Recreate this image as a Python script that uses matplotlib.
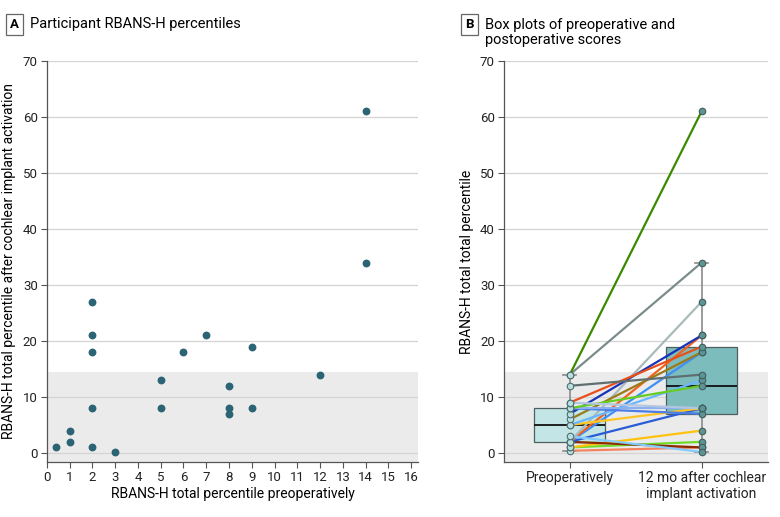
import matplotlib
matplotlib.use("Agg")
import matplotlib.pyplot as plt
import numpy as np

plt.rcParams["font.family"] = ["Liberation Sans Narrow", "Roboto", "DejaVu Sans"]

# Paired RBANS-H total percentiles per participant
pre = [0.4, 1, 1, 2, 2, 2, 2, 2, 3, 5, 5, 6, 7, 8, 8, 8, 9, 9, 12, 14, 14]
post = [1, 2, 4, 1, 8, 18, 21, 27, 0.2, 8, 13, 18, 21, 7, 8, 12, 8, 19, 14, 34, 61]
pair_colors = ["#f4845f", "#6fdc2a", "#ffc20e", "#8b2a00", "#2a5cd6",
               "#3d8ff5", "#f0621e", "#a9baba", "#84ccff", "#ffc524",
               "#6bb6ff", "#9a7a1a", "#1832b8", "#4a7de8", "#8ab0f0",
               "#66cc22", "#b3c6e0", "#e8501a", "#5f6f6f", "#7a8c8c",
               "#3a8a00"]
group_labels = ["Preoperatively", "12 mo after cochlear\nimplant activation"]
yticks = [0, 10, 20, 30, 40, 50, 60, 70]
xticks_a = list(range(0, 17))
band_top = 14.5

fig = plt.figure(figsize=(7.8, 5.17), dpi=100)
ax_a = fig.add_axes([0.060, 0.1064, 0.476, 0.7756])
ax_b = fig.add_axes([0.646, 0.1064, 0.338, 0.7756])

grid_c = "#d4d4d4"
axis_c = "#555555"


def style_axes(ax):
    ax.set_ylim(-1.6, 70)
    ax.set_yticks(yticks)
    for y in yticks:
        ax.axhline(y, color=grid_c, lw=0.9, zorder=1)
    ax.axhspan(-1.6, band_top, color="#ebebeb", zorder=0, lw=0)
    for s in ["top", "right"]:
        ax.spines[s].set_visible(False)
    for s in ["left", "bottom"]:
        ax.spines[s].set_color(axis_c)
        ax.spines[s].set_linewidth(0.9)
    ax.tick_params(colors=axis_c, labelcolor="#222222", labelsize=9.5,
                   length=4, width=0.8, pad=2.5)


# Panel A: scatter
style_axes(ax_a)
ax_a.set_xlim(0, 16.3)
ax_a.set_xticks(xticks_a)
ax_a.scatter(pre, post, s=32, color="#2b6475", zorder=3, lw=0)
ax_a.set_xlabel("RBANS-H total percentile preoperatively", fontsize=10, labelpad=2)
ax_a.set_ylabel("RBANS-H total percentile after cochlear implant activation",
                fontsize=10, labelpad=5)

# Panel B: paired lines + box plots
style_axes(ax_b)
ax_b.set_xlim(-0.5, 1.5)
bp = ax_b.boxplot([pre, post], positions=[0, 1], widths=0.54, patch_artist=True,
                  showfliers=False, whis=1.5, zorder=2,
                  medianprops=dict(color="#111111", lw=1.3),
                  whiskerprops=dict(color="#8a8a8a", lw=1.2),
                  capprops=dict(color="#8a8a8a", lw=1.2),
                  boxprops=dict(edgecolor="#4f5f5f", lw=0.9))
for cap in bp["caps"]:
    x0, x1 = cap.get_xdata()
    mid = (x0 + x1) / 2
    cap.set_xdata([mid - 0.05, mid + 0.05])
bp["boxes"][0].set_facecolor("#c3e5e5")
bp["boxes"][1].set_facecolor("#7dbcbc")

for a, b, c in zip(pre, post, pair_colors):
    ax_b.plot([0, 1], [a, b], color=c, lw=1.6, zorder=4)
ax_b.scatter([0] * len(pre), pre, s=22, color="#b9e0e0", edgecolor="#4f6f6f",
             lw=0.8, zorder=5)
ax_b.scatter([1] * len(post), post, s=22, color="#5f9494", edgecolor="#3f5f5f",
             lw=0.8, zorder=5)
ax_b.set_xticks([0, 1])
ax_b.set_xticklabels(group_labels, fontsize=10)
ax_b.tick_params(axis="x", pad=2.5)
ax_b.set_ylabel("RBANS-H total total percentile", fontsize=10, labelpad=4)

# Panel headers
fig.text(0.019, 0.953, "A", fontsize=9.5, fontweight="bold", ha="center",
         va="center",
         bbox=dict(boxstyle="square,pad=0.3", fc="white", ec="#666666", lw=0.9))
fig.text(0.038, 0.953, "Participant RBANS-H percentiles", fontsize=10.5,
         ha="left", va="center")
fig.text(0.602, 0.953, "B", fontsize=9.5, fontweight="bold", ha="center",
         va="center",
         bbox=dict(boxstyle="square,pad=0.3", fc="white", ec="#666666", lw=0.9))
fig.text(0.622, 0.965, "Box plots of preoperative and\npostoperative scores",
         fontsize=10.5, ha="left", va="top", linespacing=1.1)

fig.savefig("out.png", dpi=100)
